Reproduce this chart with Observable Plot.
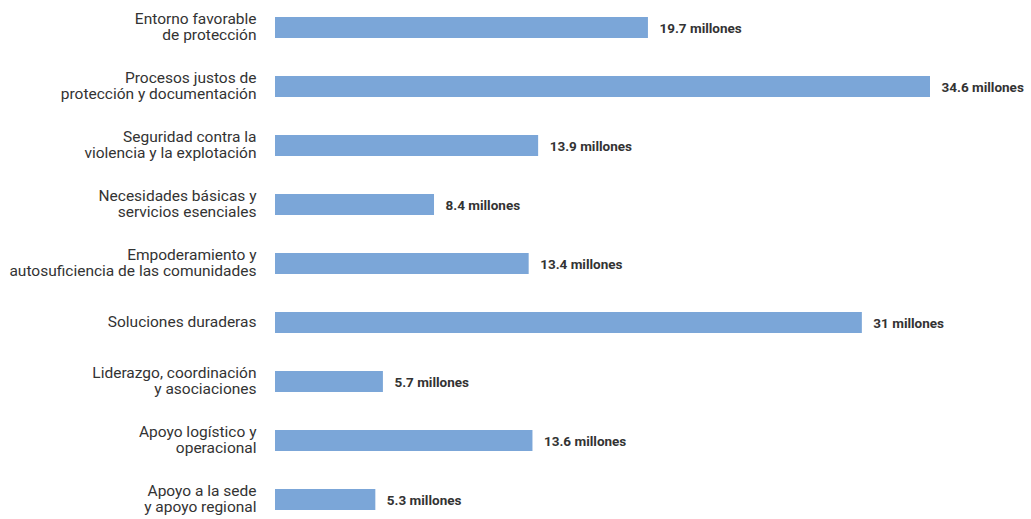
<!DOCTYPE html>
<html>
<head>
<meta charset="utf-8">
<script src="https://cdn.jsdelivr.net/npm/d3@7"></script>
<script src="https://cdn.jsdelivr.net/npm/@observablehq/plot@0.6"></script>
<style>
  html, body { margin: 0; padding: 0; background: #fff; }
  #chart { width: 1031px; height: 519px; }
</style>
</head>
<body>
<div id="chart"></div>
<script>
const categories = [
  "Entorno favorable\nde protección",
  "Procesos justos de\nprotección y documentación",
  "Seguridad contra la\nviolencia y la explotación",
  "Necesidades básicas y\nservicios esenciales",
  "Empoderamiento y\nautosuficiencia de las comunidades",
  "Soluciones duraderas",
  "Liderazgo, coordinación\ny asociaciones",
  "Apoyo logístico y\noperacional",
  "Apoyo a la sede\ny apoyo regional"
];
const values = [19.7, 34.6, 13.9, 8.4, 13.4, 31, 5.7, 13.6, 5.3];
const valueLabels = ["19.7 millones", "34.6 millones", "13.9 millones", "8.4 millones", "13.4 millones", "31 millones", "5.7 millones", "13.6 millones", "5.3 millones"];

const data = categories.map((c, i) => ({cat: c, value: values[i], label: valueLabels[i]}));

const chart = Plot.plot({
  width: 1031,
  height: 519,
  marginTop: 0, marginBottom: 0, marginLeft: 0, marginRight: 0,
  style: {fontFamily: "Roboto, sans-serif", color: "#333", background: "#fff"},
  x: {domain: [0, 34.6], range: [275, 930], axis: null},
  y: {domain: categories, range: [17, 510.5], paddingInner: 0.644, paddingOuter: 0, axis: null},
  marks: [
    Plot.barX(data, {x: "value", y: "cat", fill: "#7ba6d8"}),
    Plot.text(data, {x: 0, y: "cat", text: "cat", textAnchor: "end", dx: -19, dy: -1, fontSize: 15.5, lineHeight: 1.02, fill: "#333"}),
    Plot.text(data, {x: "value", y: "cat", text: "label", textAnchor: "start", dx: 11, dy: 1, fontSize: 13.5, fontWeight: "bold", fill: "#333"})
  ]
});
document.getElementById("chart").appendChild(chart);
</script>
</body>
</html>
